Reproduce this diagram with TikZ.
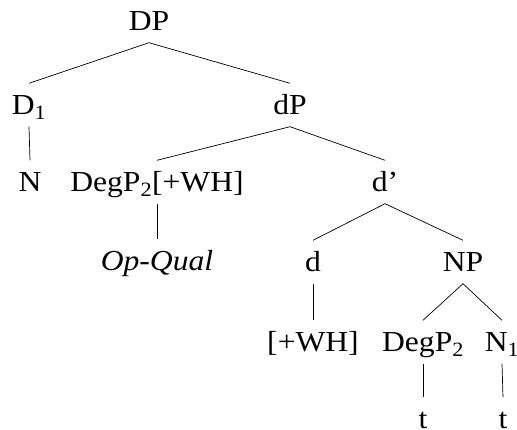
\documentclass[tikz,border=0pt]{standalone}
\usepackage{fontspec}
\setmainfont{Liberation Serif}[FakeStretch=1.09]
\begin{document}
\begin{tikzpicture}[x=1pt,y=-1pt,
  lbl/.style={font=\fontsize{29}{35}\selectfont, text height=19pt, text depth=0pt,
              inner xsep=0pt, inner ysep=12pt, anchor=center},
  branch/.style={line width=0.7pt}]
\useasboundingbox (0,0) rectangle (517,430);
% labels
\node[lbl] (DP)   at (149,21)  {DP};
\node[lbl] (D1)   at (29,105)  {D\textsubscript{1}};
\node[lbl] (dP)   at (290,105) {dP};
\node[lbl] (N)    at (30,182)  {N};
\node[lbl] (Deg)  at (157,182) {DegP\textsubscript{2}[+WH]};
\node[lbl] (dbar) at (385,182) {d’};
\node[lbl] (Op)   at (157,261) {\textit{Op-Qual}};
\node[lbl] (d)    at (313,262) {d};
\node[lbl] (NP)   at (463,262) {NP};
\node[lbl] (wh)   at (313,342) {[+WH]};
\node[lbl] (Deg2) at (423,342) {DegP\textsubscript{2}};
\node[lbl] (N1)   at (502,342) {N\textsubscript{1}};
\node[lbl] (t1)   at (423,419) {t};
\node[lbl] (t2)   at (503,419) {t};
% branches
\draw[branch] (DP.south) -- (D1.north);
\draw[branch] (DP.south) -- (dP.north);
\draw[branch] (D1.south) -- (N.north);
\draw[branch] (dP.south) -- (Deg.north);
\draw[branch] (dP.south) -- (dbar.north);
\draw[branch] (Deg.south) -- (Op.north);
\draw[branch] (dbar.south) -- (d.north);
\draw[branch] (dbar.south) -- (NP.north);
\draw[branch] (d.south) -- (wh.north);
\draw[branch] (NP.south) -- (Deg2.north);
\draw[branch] (NP.south) -- (N1.north);
\draw[branch] (Deg2.south) -- (t1.north);
\draw[branch] (N1.south) -- (t2.north);
\end{tikzpicture}
\end{document}
